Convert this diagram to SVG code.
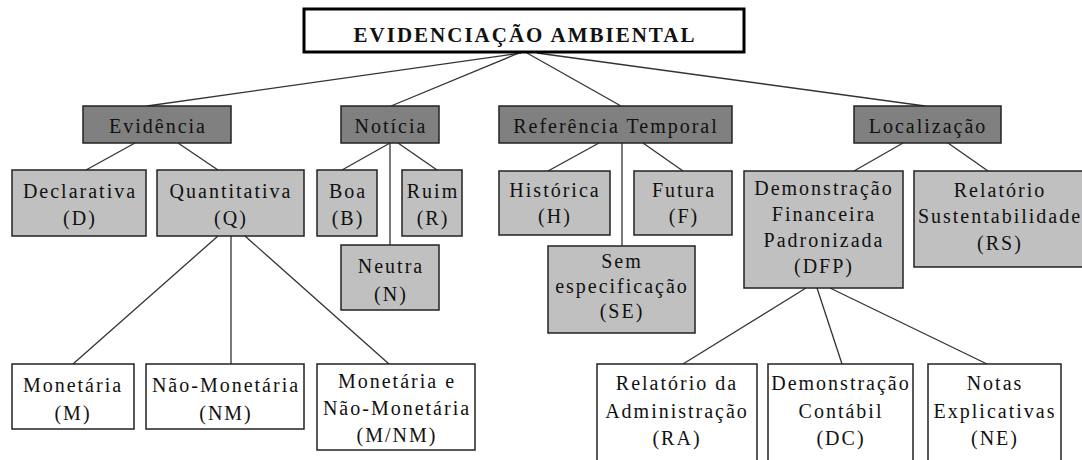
<svg xmlns="http://www.w3.org/2000/svg" width="1082" height="460" viewBox="0 0 1082 460">
<style>
text{font-family:"Liberation Serif","Times New Roman",serif;font-size:20px;letter-spacing:2px;text-anchor:middle;fill:#111}
.title{font-weight:bold;font-size:21px;letter-spacing:2px}
.box{stroke:#222;stroke-width:1.5}
.cat{fill:#808080}
.sub{fill:#c0c0c0}
.leaf{fill:#fff}
#connectors line{stroke:#333;stroke-width:1.3}
</style>
<rect width="1082" height="460" fill="#fff"/>
<g id="connectors">
<line x1="521" y1="53" x2="147" y2="106"/>
<line x1="519" y1="53" x2="391" y2="106"/>
<line x1="527" y1="53" x2="621" y2="106"/>
<line x1="537" y1="53" x2="925" y2="106"/>
<line x1="135" y1="143" x2="86" y2="170"/>
<line x1="178" y1="143" x2="218" y2="170"/>
<line x1="390" y1="143" x2="342" y2="170"/>
<line x1="398" y1="143" x2="437" y2="170"/>
<line x1="390" y1="143" x2="390" y2="245"/>
<line x1="218" y1="236" x2="73" y2="364"/>
<line x1="231" y1="236" x2="231" y2="364"/>
<line x1="245" y1="236" x2="389" y2="364"/>
<line x1="599" y1="143" x2="548" y2="171"/>
<line x1="622" y1="143" x2="622" y2="246"/>
<line x1="643" y1="143" x2="683" y2="171"/>
<line x1="903" y1="143" x2="854" y2="171"/>
<line x1="948" y1="143" x2="988" y2="171"/>
<line x1="806" y1="288" x2="683" y2="364"/>
<line x1="817" y1="288" x2="842" y2="364"/>
<line x1="830" y1="288" x2="987" y2="364"/>
</g>
<g id="root">
<rect x="304" y="9" width="440" height="43" fill="#fff" stroke="#000" stroke-width="3"/>
<text class="title" x="525" y="42">EVIDENCIAÇÃO AMBIENTAL</text>
</g>
<g id="evidencia"><rect class="box cat" x="83" y="106" width="148" height="37"/><text x="158" y="133">Evidência</text></g>
<g id="noticia"><rect class="box cat" x="341" y="106" width="98" height="37"/><text x="391" y="133">Notícia</text></g>
<g id="referencia"><rect class="box cat" x="499" y="106" width="233" height="37"/><text x="616" y="133">Referência Temporal</text></g>
<g id="localizacao"><rect class="box cat" x="854" y="106" width="147" height="37"/><text x="928" y="133">Localização</text></g>

<g id="declarativa"><rect class="box sub" x="12" y="170" width="134" height="66"/><text x="80" y="198">Declarativa</text><text x="80" y="225">(D)</text></g>
<g id="quantitativa"><rect class="box sub" x="157" y="170" width="147" height="66"/><text x="231" y="198">Quantitativa</text><text x="231" y="225">(Q)</text></g>
<g id="boa"><rect class="box sub" x="317" y="170" width="60" height="66"/><text x="348" y="198">Boa</text><text x="348" y="225">(B)</text></g>
<g id="ruim"><rect class="box sub" x="402" y="170" width="60" height="66"/><text x="433" y="198">Ruim</text><text x="433" y="225">(R)</text></g>
<g id="neutra"><rect class="box sub" x="341" y="245" width="98" height="65"/><text x="391" y="273">Neutra</text><text x="391" y="301">(N)</text></g>
<g id="historica"><rect class="box sub" x="499" y="171" width="111" height="64"/><text x="555" y="197">Histórica</text><text x="555" y="223">(H)</text></g>
<g id="futura"><rect class="box sub" x="634" y="171" width="98" height="64"/><text x="684" y="197">Futura</text><text x="684" y="223">(F)</text></g>
<g id="sem"><rect class="box sub" x="548" y="246" width="147" height="87"/><text x="622" y="268">Sem</text><text x="622" y="293">especificação</text><text x="622" y="318">(SE)</text></g>
<g id="dfp"><rect class="box sub" x="744" y="171" width="159" height="117"/><text x="824" y="195">Demonstração</text><text x="824" y="221">Financeira</text><text x="824" y="247">Padronizada</text><text x="824" y="273">(DFP)</text></g>
<g id="rs"><rect class="box sub" x="914" y="171" width="172" height="96"/><text x="1000" y="197">Relatório</text><text x="1000" y="223">Sustentabilidade</text><text x="1000" y="250">(RS)</text></g>

<g id="monetaria"><rect class="box leaf" x="12" y="364" width="122" height="65"/><text x="73" y="392">Monetária</text><text x="73" y="420">(M)</text></g>
<g id="naomonetaria"><rect class="box leaf" x="146" y="364" width="158" height="65"/><text x="226" y="392">Não-Monetária</text><text x="226" y="420">(NM)</text></g>
<g id="mnm"><rect class="box leaf" x="317" y="364" width="158" height="86"/><text x="397" y="388">Monetária e</text><text x="397" y="415">Não-Monetária</text><text x="397" y="442">(M/NM)</text></g>
<g id="ra"><rect class="box leaf" x="597" y="364" width="160" height="110"/><text x="677" y="390">Relatório da</text><text x="677" y="418">Administração</text><text x="677" y="445">(RA)</text></g>
<g id="dc"><rect class="box leaf" x="768" y="364" width="145" height="110"/><text x="841" y="390">Demonstração</text><text x="841" y="418">Contábil</text><text x="841" y="445">(DC)</text></g>
<g id="ne"><rect class="box leaf" x="928" y="364" width="133" height="110"/><text x="995" y="390">Notas</text><text x="995" y="418">Explicativas</text><text x="995" y="445">(NE)</text></g>
</svg>
